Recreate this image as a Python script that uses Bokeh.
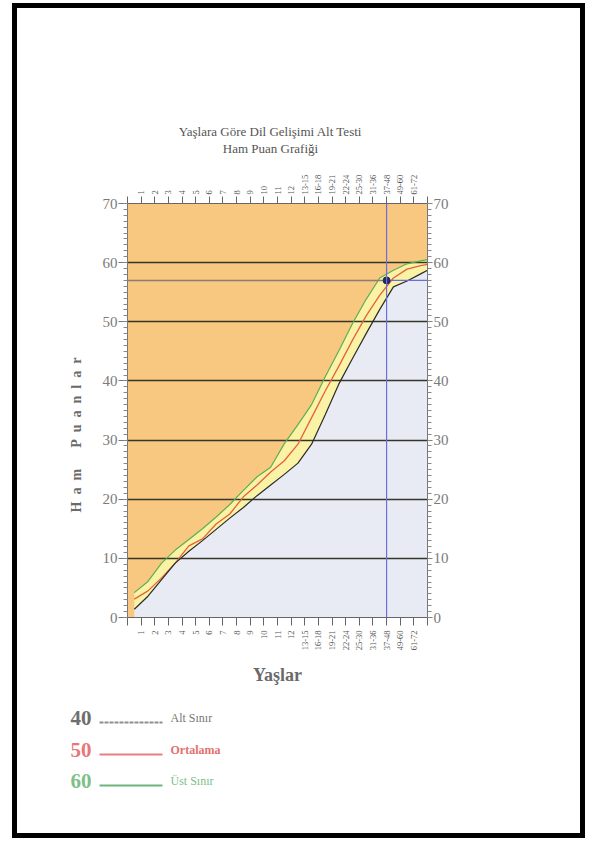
import math
import numpy as np
from bokeh.plotting import figure
from bokeh.layouts import column
from bokeh.models import Range1d, LinearAxis, FixedTicker, Label, Span, ColumnDataSource
from bokeh.embed import file_html
from bokeh.resources import INLINE

# ---------------- data ----------------
age_groups = ["1", "2", "3", "4", "5", "6", "7", "8", "9", "10", "11", "12",
              "13-15", "16-18", "19-21", "22-24", "25-30", "31-36", "37-48", "49-60", "61-72"]
y_ticks = [0, 10, 20, 30, 40, 50, 60, 70]

# raw scores at the boundaries between age groups (first boundary .. last), then at chart edge
upper_limit = [4.2, 6.1, 9.2, 11.4, 13.2, 15.0, 17.0, 19.1, 21.5, 23.8, 25.4, 29.4,
               32.6, 36.0, 40.7, 45.1, 49.7, 53.8, 57.4, 58.7, 59.8, 60.3, 60.5]
mean_score = [3.1, 4.5, 6.7, 9.2, 12.1, 13.3, 15.8, 17.5, 20.4, 22.4, 24.6, 26.5,
              29.3, 33.8, 38.3, 42.5, 46.9, 51.0, 54.5, 57.4, 58.9, 59.5, 59.7]
lower_limit = [1.4, 3.6, 6.4, 9.2, 11.2, 13.0, 14.9, 16.8, 18.6, 20.6, 22.4, 24.2,
               26.1, 29.3, 34.3, 39.5, 43.8, 48.0, 52.1, 55.9, 56.9, 58.1, 58.7]

marked_age = "37-48"
marked_score = 57

title_lines = ["Yaşlara Göre Dil Gelişimi Alt Testi", "Ham Puan Grafiği"]
x_title = "Yaşlar"
y_title = "Ham Puanlar"
legend_scores = ["40", "50", "60"]
legend_names = ["Alt Sınır", "Ortalama", "Üst Sınır"]

# ---------------- styles ----------------
SERIF = "Liberation Serif"
ORANGE = "#F8C880"
YELLOW = "#FAF2A4"
LAVENDER = "#E9EBF4"
GREEN = "#5EAE52"
RED = "#E8603F"
DARK = "#2b2b2b"
BLUE = "#6A6ED8"
GREY_TXT = "#7a7a7a"
W = 563

n = len(age_groups)
pos = np.arange(1, n + 1)
curve_x = np.concatenate([np.arange(n + 1) + 0.5, [n + 1]])
mpos = pos[age_groups.index(marked_age)]


def blank_fig(h):
    f = figure(width=W, height=h, x_range=Range1d(0, W), y_range=Range1d(h, 0),
               output_backend="svg", toolbar_location=None, min_border=0,
               x_axis_location=None, y_axis_location=None, frame_align=False)
    f.xgrid.visible = False
    f.ygrid.visible = False
    f.outline_line_color = None
    f.background_fill_color = "white"
    f.border_fill_color = "white"
    return f


# ---------------- header (title) ----------------
header = blank_fig(150)
for i, t in enumerate(title_lines):
    header.add_layout(Label(x=253, y=123 + 17 * i, text=t, text_align="center", text_baseline="middle",
                            text_font=SERIF, text_font_size="13px", text_color="#555555"))

# ---------------- main chart ----------------
p = figure(width=W, height=542, x_range=Range1d(0, n + 1), y_range=Range1d(0, 70),
           output_backend="svg", toolbar_location=None, frame_align=False,
           min_border_left=110, min_border_right=153, min_border_top=45, min_border_bottom=83)
p.background_fill_color = ORANGE
p.border_fill_color = "white"
p.outline_line_color = "#8a8a8a"
p.outline_line_width = 1

overrides = {0: "", n + 1: ""}
for i, g in enumerate(age_groups):
    overrides[int(pos[i])] = g
xt = list(range(0, n + 2))


def style_x(ax, tick_out, standoff):
    ax.ticker = FixedTicker(ticks=xt)
    ax.major_label_overrides = overrides
    ax.major_label_orientation = math.pi / 2
    ax.major_label_text_font = SERIF
    ax.major_label_text_font_size = "8.5px"
    ax.major_label_text_color = "#555555"
    ax.major_tick_out = tick_out
    ax.major_tick_in = 0
    ax.major_label_standoff = standoff
    ax.minor_tick_line_color = None
    ax.axis_line_color = "#666666"
    ax.major_tick_line_color = "#666666"


def style_y(ax, tick_out, standoff):
    ax.ticker = FixedTicker(ticks=y_ticks, minor_ticks=list(range(0, 71)))
    ax.major_label_text_font = SERIF
    ax.major_label_text_font_size = "15px"
    ax.major_label_text_color = GREY_TXT
    ax.major_tick_out = tick_out
    ax.major_tick_in = 0
    ax.minor_tick_out = 4
    ax.minor_tick_in = 0
    ax.major_label_standoff = standoff
    ax.axis_line_color = "#777777"
    ax.major_tick_line_color = "#777777"
    ax.minor_tick_line_color = "#888888"


style_x(p.xaxis[0], 8, 5)
p.xaxis[0].axis_label = x_title
p.xaxis[0].axis_label_text_font = SERIF
p.xaxis[0].axis_label_text_font_size = "18px"
p.xaxis[0].axis_label_text_font_style = "bold"
p.xaxis[0].axis_label_text_color = "#6a6a6a"
p.xaxis[0].axis_label_standoff = 12

style_y(p.yaxis[0], 9, 1)
p.yaxis[0].axis_label = "\u2002".join(y_title.replace(" ", "\u2002")) + "\u2002" * 7
p.yaxis[0].axis_label_text_font = SERIF
p.yaxis[0].axis_label_text_font_size = "14px"
p.yaxis[0].axis_label_text_font_style = "bold"
p.yaxis[0].axis_label_text_color = "#6a6a6a"
p.yaxis[0].axis_label_standoff = 16

top_ax = LinearAxis()
style_x(top_ax, 7, 2)
p.add_layout(top_ax, "above")
right_ax = LinearAxis()
style_y(right_ax, 5, 1)
p.add_layout(right_ax, "right")

p.xgrid.visible = False
p.ygrid.ticker = FixedTicker(ticks=y_ticks[1:-1])
p.ygrid.grid_line_color = "#35352a"
p.ygrid.grid_line_width = 1.5

src = ColumnDataSource(dict(x=curve_x, upper=upper_limit, mean=mean_score, lower=lower_limit,
                            zero=np.zeros(len(curve_x))))
p.varea(x="x", y1="zero", y2="lower", source=src, fill_color=LAVENDER, level="image")
p.varea(x="x", y1="lower", y2="upper", source=src, fill_color=YELLOW, level="image")
p.line("x", "upper", source=src, line_color=GREEN, line_width=1.2)
p.line("x", "mean", source=src, line_color=RED, line_width=1.3)
p.line("x", "lower", source=src, line_color=DARK, line_width=1.2)

# marked score of the child
p.segment(x0=[0], y0=[marked_score], x1=[mpos], y1=[marked_score], line_color="#8a7e70", line_width=1.5)
p.segment(x0=[mpos], y0=[marked_score], x1=[n + 1], y1=[marked_score], line_color=BLUE, line_width=1.3)
p.add_layout(Span(location=mpos, dimension="height", line_color=BLUE, line_width=1.2))
p.scatter([mpos], [marked_score], size=7, color="#262a5e")

# ---------------- footer (legend) ----------------
footer = blank_fig(133)
legend_num_colors = ["#6e6e6e", "#E8777A", "#7DC08A"]
legend_line_colors = ["#8e8e8e", "#E88080", "#6DB57C"]
legend_txt_colors = ["#777777", "#E37070", "#7DC08A"]
row_line = [22, 54, 85]
for i in range(3):
    yl = row_line[i]
    footer.add_layout(Label(x=53, y=yl - 5, text=legend_scores[i], text_baseline="alphabetic",
                            text_font=SERIF, text_font_size="21px", text_font_style="bold",
                            text_color=legend_num_colors[i]))
    footer.segment(x0=[82], y0=[yl], x1=[145], y1=[yl], line_color=legend_line_colors[i],
                   line_width=2, line_dash="4 1" if i == 0 else "solid")
    footer.add_layout(Label(x=153, y=yl - 5, text=legend_names[i], text_baseline="alphabetic",
                            text_font=SERIF, text_font_size="12px",
                            text_font_style="bold" if i == 1 else "normal",
                            text_color=legend_txt_colors[i]))

page = column(header, p, footer,
              styles={"margin-left": "17px", "margin-top": "8px", "outline": "5px solid #000"})
open("out.html", "w").write(file_html(page, INLINE))
